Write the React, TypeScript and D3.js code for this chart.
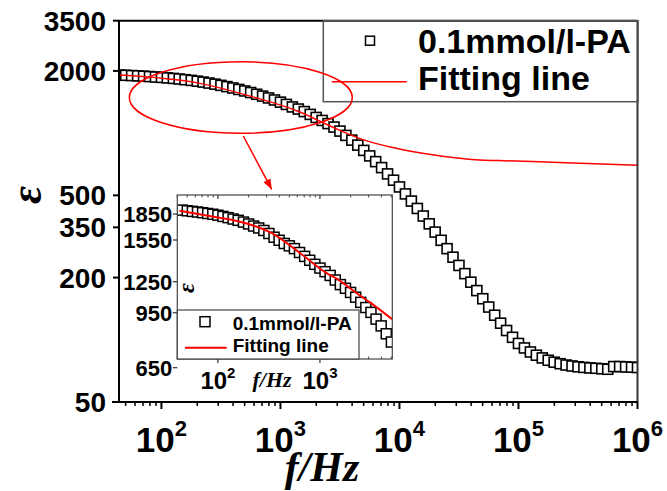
import React from "react";
import * as d3 from "d3";

// frequency sweep (Hz), 20 points per decade
const freq = [
  44.7, 50.1, 56.2, 63.1, 70.8, 79.4, 89.1, 100, 112, 126, 141, 158, 178, 200, 224, 251, 282, 316, 355, 398,
  447, 501, 562, 631, 708, 794, 891, 1000, 1122, 1259, 1413, 1585, 1778, 1995, 2239, 2512, 2818, 3162, 3548, 3981,
  4467, 5012, 5623, 6310, 7079, 7943, 8913, 10000, 11220, 12590, 14130, 15850, 17780, 19950, 22390, 25120, 28180, 31620, 35480, 39810,
  44670, 50120, 56230, 63100, 70790, 79430, 89130, 100000, 112200, 125900, 141300, 158500, 177800, 199500, 223900, 251200, 281800, 316200, 354800, 398100,
  446700, 501200, 562300, 631000, 707900, 794300, 891300, 1000000,
];
// permittivity of the 0.1mmol/l-PA sample
const eps = [
  1910, 1905, 1899, 1893, 1886, 1878, 1869, 1861, 1851, 1840, 1828, 1814, 1800, 1784, 1766, 1747, 1726, 1703, 1679, 1654,
  1627, 1600, 1572, 1542, 1511, 1480, 1447, 1412, 1377, 1339, 1308, 1271, 1232, 1191, 1152, 1112, 1070, 1023, 975, 925,
  875, 825, 776, 728, 681, 635, 592, 549, 508, 469, 432, 397, 364, 332, 303, 276, 251, 229, 209, 190,
  173, 158, 144, 131.5, 120.3, 110.9, 102.8, 96.0, 91.3, 87.3, 84.2, 81.7, 79.6, 77.9, 76.6, 75.5, 74.7, 74.0, 73.5, 73.1,
  72.8, 72.4, 72.0, 74.2, 74.2, 73.9, 73.7, 73.4,
];
const fitFreq = [44.7, 210, 548, 1440, 2730, 4860, 9380, 17700, 46600, 68500, 218000, 1000000];
const fitEps = [1910, 1741, 1515, 1269, 1070, 933, 844, 790, 741, 737, 721, 700];

const yTickValues = [50, 200, 350, 500, 2000, 3500];
const xTickExponents = [2, 3, 4, 5, 6];

// inset (zoom on the low frequency part)
const insetEps = [
  1895, 1887, 1880, 1873, 1865, 1856, 1847, 1836, 1822, 1808, 1792, 1777, 1757, 1735, 1711, 1689, 1660, 1625, 1582, 1548,
  1525, 1508, 1488, 1460, 1432, 1404, 1375, 1348, 1322, 1295, 1262, 1222, 1186, 1146, 1100, 1050, 1000, 953, 915, 878,
  835, 790,
];
const insetFitFreq = [42, 100, 154, 257, 324, 543, 681, 1172, 1469, 2466, 3090, 5080];
const insetFitEps = [1888, 1810, 1770, 1690, 1640, 1495, 1440, 1310, 1270, 1115, 1050, 915];
const insetYTickValues = [650, 950, 1250, 1550, 1850];
const insetXTickExponents = [2, 3];

const legendLabels = ["0.1mmol/l-PA", "Fitting line"];

const SANS = "'Liberation Sans', Arial, sans-serif";
const SERIF = "'Liberation Serif', 'Times New Roman', serif";
const RED = "#ff0000";

export default function App() {
  const W = 667;
  const H = 491;

  // main plot scales
  const x = d3.scaleLog().domain([44, 1e6]).range([119, 637.5]);
  const y = d3.scaleLog().domain([50, 3500]).range([402, 20.7]);
  const [x0, x1] = x.range();
  const [y0, y1] = y.range();

  // inset scales (the inset's y axis is not evenly spaced)
  const ix = d3.scaleLog().domain([40, 5117]).range([177.3, 392.3]);
  const iy = d3.scaleLinear().domain(insetYTickValues).range([367.7, 312.7, 281.7, 240, 214]);
  const [ix0, ix1] = ix.range();
  const iTop = 195, iBot = 359;

  const fitLine = d3
    .line<number>()
    .x((i) => x(fitFreq[i]))
    .y((i) => y(fitEps[i]))
    .curve(d3.curveMonotoneX);
  const insetFitLine = d3
    .line<number>()
    .x((i) => ix(insetFitFreq[i]))
    .y((i) => iy(insetFitEps[i]))
    .curve(d3.curveMonotoneX);

  const isDecade = (v: number) => Math.abs(Math.log10(v) - Math.round(Math.log10(v))) < 1e-6;
  const minorX = x.ticks().filter((v) => !isDecade(v));
  const minorIX = ix.ticks().filter((v) => !isDecade(v));

  const sq = 10;
  const isq = 10;

  // zoom ellipse and arrow
  const ell = { cx: 240.8, cy: 97.5, rx: 111.5, ry: 35.8 };
  const arrowFrom: [number, number] = [243.3, 136];
  const arrowTo: [number, number] = [271.7, 189.3];
  const ang = Math.atan2(arrowTo[1] - arrowFrom[1], arrowTo[0] - arrowFrom[0]);
  const headL = 10, headW = 4;
  const head = [
    arrowTo,
    [arrowTo[0] - headL * Math.cos(ang) + headW * Math.sin(ang), arrowTo[1] - headL * Math.sin(ang) - headW * Math.cos(ang)],
    [arrowTo[0] - headL * Math.cos(ang) - headW * Math.sin(ang), arrowTo[1] - headL * Math.sin(ang) + headW * Math.cos(ang)],
  ]
    .map((p) => p.join(","))
    .join(" ");

  return (
    <svg width={W} height={H} style={{ position: "absolute", left: 0, top: 0, background: "#fff" }}>
      <defs>
        <clipPath id="mainClip">
          <rect x={x0} y={y1} width={x1 - x0} height={y0 - y1} />
        </clipPath>
        <clipPath id="insetClip">
          <rect x={ix0} y={iTop} width={ix1 - ix0} height={iBot - iTop} />
        </clipPath>
      </defs>

      {/* main data */}
      <g clipPath="url(#mainClip)">
        {freq.map((f, i) => (
          <rect
            key={i}
            x={x(f) - sq / 2}
            y={y(eps[i]) - sq / 2}
            width={sq}
            height={sq}
            fill="#fff"
            stroke="#000"
            strokeWidth={1.6}
          />
        ))}
        <path d={fitLine(fitFreq.map((_, i) => i)) || ""} fill="none" stroke={RED} strokeWidth={1.5} />
      </g>

      {/* frame */}
      <g stroke="#000" strokeWidth={2}>
        <line x1={x0} x2={x1} y1={y1} y2={y1} />
        <line x1={x1} x2={x1} y1={y1} y2={y0} stroke="#333" />
        <line x1={x0} x2={x0} y1={y1} y2={y0} />
        <line x1={x0 - 7} x2={x1} y1={y0} y2={y0} />
      </g>

      {/* y axis */}
      {yTickValues.map((v) => (
        <g key={v}>
          <line x1={x0 - 6} x2={x0} y1={y(v)} y2={y(v)} stroke="#000" strokeWidth={2} />
          <text
            x={x0 - 13}
            y={y(v)}
            dy="0.36em"
            textAnchor="end"
            fontFamily={SANS}
            fontWeight="bold"
            fontSize={28}
          >
            {v}
          </text>
        </g>
      ))}

      {/* x axis */}
      {minorX.map((v) => (
        <line key={v} x1={x(v)} x2={x(v)} y1={y0} y2={y0 + 4} stroke="#000" strokeWidth={1.5} />
      ))}
      {xTickExponents.map((e) => (
        <g key={e}>
          <line x1={x(10 ** e)} x2={x(10 ** e)} y1={y0} y2={y0 + 7} stroke="#000" strokeWidth={2} />
          <text x={x(10 ** e)} y={452} textAnchor="middle" fontFamily={SANS} fontWeight="bold" fontSize={35}>
            10
            <tspan dy={-16} fontSize={22}>
              {e}
            </tspan>
          </text>
        </g>
      ))}

      <text x={322} y={481} textAnchor="middle" fontFamily={SERIF} fontWeight="bold" fontStyle="italic" fontSize={42}>
        f/Hz
      </text>
      <text
        transform="translate(26,195) rotate(-90)"
        textAnchor="middle"
        dominantBaseline="central"
        fontFamily={SERIF}
        fontWeight="bold"
        fontStyle="italic"
        fontSize={44}
      >
        ε
      </text>

      {/* main legend */}
      <rect x={323.3} y={20.7} width={314.7} height={81} fill="none" stroke="#555" strokeWidth={1.5} />
      <rect x={365.5} y={36.2} width={9} height={9} fill="#fff" stroke="#000" strokeWidth={1.5} />
      <text x={418} y={53.3} fontFamily={SANS} fontWeight="bold" fontSize={34}>
        {legendLabels[0]}
      </text>
      <line x1={331.7} x2={406.7} y1={81.7} y2={81.7} stroke={RED} strokeWidth={1.5} />
      <text x={418} y={90} fontFamily={SANS} fontWeight="bold" fontSize={34}>
        {legendLabels[1]}
      </text>

      {/* zoom marker */}
      <ellipse cx={ell.cx} cy={ell.cy} rx={ell.rx} ry={ell.ry} fill="none" stroke={RED} strokeWidth={1.5} />
      <line x1={arrowFrom[0]} y1={arrowFrom[1]} x2={arrowTo[0]} y2={arrowTo[1]} stroke={RED} strokeWidth={1.5} />
      <polygon points={head} fill={RED} />

      {/* inset */}
      <rect x={ix0} y={iTop} width={ix1 - ix0} height={iBot - iTop} fill="#fff" />
      <g clipPath="url(#insetClip)">
        {insetEps.map((v, i) => (
          <rect
            key={i}
            x={ix(freq[i]) - isq / 2}
            y={iy(v) - isq / 2}
            width={isq}
            height={isq}
            fill="#fff"
            stroke="#000"
            strokeWidth={1.5}
          />
        ))}
        <path
          d={insetFitLine(insetFitFreq.map((_, i) => i)) || ""}
          fill="none"
          stroke={RED}
          strokeWidth={2}
        />
      </g>
      <rect x={ix0} y={iTop} width={ix1 - ix0} height={iBot - iTop} fill="none" stroke="#444" strokeWidth={1.2} />

      {insetYTickValues.map((v) => (
        <g key={v}>
          <line x1={ix0 - 4.5} x2={ix0} y1={iy(v)} y2={iy(v)} stroke="#333" strokeWidth={1.2} />
          <text
            x={ix0 - 5}
            y={iy(v)}
            dy="0.36em"
            textAnchor="end"
            fontFamily={SANS}
            fontWeight="bold"
            fontSize={22}
          >
            {v}
          </text>
        </g>
      ))}
      {minorIX.map((v) => (
        <g key={v}>
          <line x1={ix(v)} x2={ix(v)} y1={iBot} y2={iBot - 2.5} stroke="#444" strokeWidth={1} />
          <line x1={ix(v)} x2={ix(v)} y1={iTop} y2={iTop + 2.5} stroke="#444" strokeWidth={1} />
        </g>
      ))}
      {insetXTickExponents.map((e) => (
        <g key={e}>
          <line x1={ix(10 ** e)} x2={ix(10 ** e)} y1={iBot} y2={iBot + 4} stroke="#333" strokeWidth={1.2} />
          <line x1={ix(10 ** e)} x2={ix(10 ** e)} y1={iTop} y2={iTop + 4} stroke="#333" strokeWidth={1.2} />
          <text x={ix(10 ** e)} y={389} textAnchor="middle" fontFamily={SANS} fontWeight="bold" fontSize={24}>
            10
            <tspan dy={-11} fontSize={15}>
              {e}
            </tspan>
          </text>
        </g>
      ))}
      <text x={272} y={387} textAnchor="middle" fontFamily={SERIF} fontWeight="bold" fontStyle="italic" fontSize={22}>
        f/Hz
      </text>
      <text
        transform="translate(186,288) rotate(-90)"
        textAnchor="middle"
        dominantBaseline="central"
        fontFamily={SERIF}
        fontWeight="bold"
        fontStyle="italic"
        fontSize={24}
      >
        ε
      </text>

      {/* inset legend */}
      <rect x={ix0} y={310} width={359 - ix0} height={iBot - 310} fill="#fff" stroke="#444" strokeWidth={1.2} />
      <rect x={200} y={316.7} width={10} height={10} fill="#fff" stroke="#000" strokeWidth={1.5} />
      <text x={232.7} y={330} fontFamily={SANS} fontWeight="bold" fontSize={19}>
        {legendLabels[0]}
      </text>
      <line x1={185} x2={226.7} y1={347.7} y2={347.7} stroke={RED} strokeWidth={2} />
      <text x={232.7} y={351.7} fontFamily={SANS} fontWeight="bold" fontSize={19}>
        {legendLabels[1]}
      </text>
    </svg>
  );
}
